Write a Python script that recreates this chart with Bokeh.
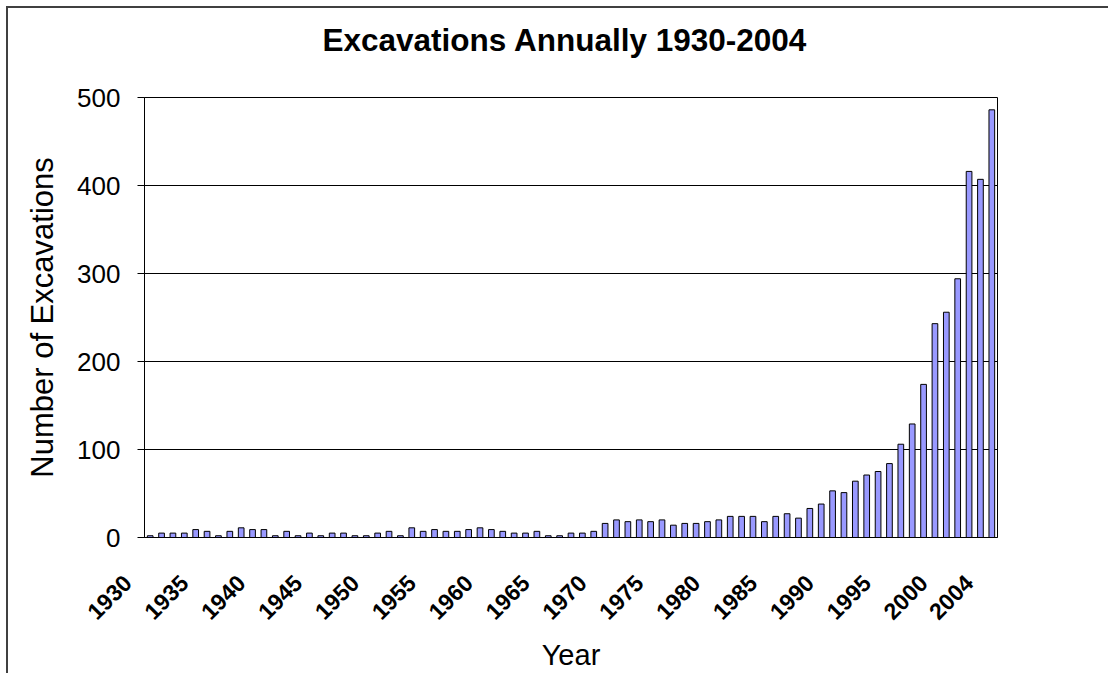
import math
from bokeh.plotting import figure
from bokeh.layouts import column
from bokeh.models import Range1d, FixedTicker, ColumnDataSource, Title
from bokeh.embed import file_html
from bokeh.resources import INLINE

years = list(range(1930, 2005))
excavations = [
    2, 5, 5, 5, 9, 7, 2, 7, 11, 9,
    9, 2, 7, 2, 5, 2, 5, 5, 2, 2,
    5, 7, 2, 11, 7, 9, 7, 7, 9, 11,
    9, 7, 5, 5, 7, 2, 2, 5, 5, 7,
    16, 20, 18, 20, 18, 20, 14, 16, 16, 18,
    20, 24, 24, 24, 18, 24, 27, 22, 33, 38,
    53, 51, 64, 71, 75, 84, 106, 129, 174, 243,
    256, 294, 416, 407, 486,
]
x_ticks = [1930, 1935, 1940, 1945, 1950, 1955, 1960, 1965, 1970,
           1975, 1980, 1985, 1990, 1995, 2000, 2004]
y_ticks = [0, 100, 200, 300, 400, 500]
chart_title = "Excavations Annually 1930-2004"

source = ColumnDataSource(dict(year=years, count=excavations))

p = figure(
    width=1100, height=665,
    output_backend="svg", toolbar_location=None,
    x_range=Range1d(1929.5, 2004.5), y_range=Range1d(0, 500),
    min_border_left=136, min_border_top=89,
    min_border_right=111, min_border_bottom=136,
)

# spacer between frame and title (closest to the frame)
spacer = Title(text=" ", text_font_size="1px", standoff=35)
p.add_layout(spacer, "above")

main_title = Title(text=chart_title, align="left", vertical_align="top",
                   text_font="Liberation Sans", text_font_size="31.5px",
                   text_font_style="bold", text_color="black",
                   standoff=0, offset=178)
p.add_layout(main_title, "above")

p.vbar(x="year", top="count", width=0.5, source=source,
       fill_color="#9999FF", line_color="black", line_width=1)

p.outline_line_color = "black"
p.outline_line_width = 1
p.outline_line_alpha = 1

p.xgrid.visible = False
p.ygrid.ticker = FixedTicker(ticks=y_ticks)
p.ygrid.grid_line_color = "black"
p.ygrid.grid_line_width = 1

# Y axis
p.yaxis.ticker = FixedTicker(ticks=y_ticks)
p.yaxis.axis_label = "Number of Excavations"
p.yaxis.axis_label_text_font = "Liberation Sans"
p.yaxis.axis_label_text_font_size = "31px"
p.yaxis.axis_label_text_font_style = "normal"
p.yaxis.axis_label_text_color = "black"
p.yaxis.axis_label_standoff = 14
p.yaxis.major_label_text_font = "Liberation Sans"
p.yaxis.major_label_text_font_size = "26px"
p.yaxis.major_label_text_color = "black"
p.yaxis.major_label_standoff = 17
p.yaxis.major_tick_out = 7
p.yaxis.major_tick_in = 0
p.yaxis.minor_tick_out = 0
p.yaxis.minor_tick_in = 0
p.yaxis.axis_line_color = "black"
p.yaxis.major_tick_line_color = "black"

# X axis
pad = "\u00a0" * 5
p.xaxis.ticker = FixedTicker(ticks=x_ticks)
p.xaxis.major_label_overrides = {t: f"{t}{pad}" for t in x_ticks}
p.xaxis.axis_label = "Year"
p.xaxis.axis_label_text_font = "Liberation Sans"
p.xaxis.axis_label_text_font_size = "29px"
p.xaxis.axis_label_text_font_style = "normal"
p.xaxis.axis_label_text_color = "black"
p.xaxis.axis_label_standoff = 2
p.xaxis.major_label_orientation = math.pi / 4
p.xaxis.major_label_text_font = "Liberation Sans"
p.xaxis.major_label_text_font_size = "23px"
p.xaxis.major_label_text_font_style = "bold"
p.xaxis.major_label_text_color = "black"
p.xaxis.major_label_standoff = 19
p.xaxis.major_tick_out = 0
p.xaxis.major_tick_in = 0
p.xaxis.minor_tick_out = 0
p.xaxis.minor_tick_in = 0
p.xaxis.axis_line_color = "black"

layout = column(p, styles={"border-top": "2px solid #404040",
                           "border-left": "2px solid #404040",
                           "margin-left": "6px", "margin-top": "6px"})

open("out.html", "w").write(file_html(layout, INLINE))
